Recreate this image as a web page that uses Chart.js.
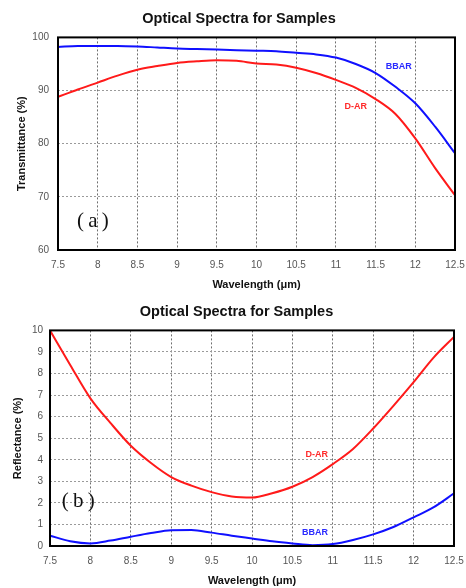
<!DOCTYPE html>
<html>
<head>
<meta charset="utf-8">
<script src="https://cdn.jsdelivr.net/npm/chart.js@4.4.1/dist/chart.umd.min.js"></script>
<style>
  html, body { margin: 0; padding: 0; background: #fff; }
  #wrap { position: relative; width: 466px; height: 588px; }
  .box { position: absolute; left: 0; width: 466px; }
</style>
</head>
<body>
<div id="wrap">
  <div class="box" style="top:0;height:292px"><canvas id="c1"></canvas></div>
  <div class="box" style="top:293px;height:295px"><canvas id="c2"></canvas></div>
</div>
<script>
// ---- data ----
const wavelengths = [7.5, 7.75, 8.0, 8.25, 8.5, 8.75, 9.0, 9.25, 9.5, 9.75, 10.0,
                     10.25, 10.5, 10.75, 11.0, 11.25, 11.5, 11.75, 12.0, 12.25, 12.5];
const transBBAR = [98.2, 98.4, 98.4, 98.4, 98.3, 98.1, 97.9, 97.8, 97.7, 97.6, 97.5,
                   97.4, 97.1, 96.8, 96.2, 95.0, 93.3, 90.7, 87.6, 83.2, 78.2];
const transDAR  = [88.8, 90.2, 91.5, 92.8, 93.9, 94.6, 95.2, 95.5, 95.7, 95.6, 95.1,
                   94.9, 94.3, 93.3, 92.0, 90.5, 88.4, 85.6, 81.0, 75.4, 70.3];
const reflDAR   = [10.0, 8.4, 6.85, 5.7, 4.65, 3.85, 3.2, 2.8, 2.5, 2.3, 2.25,
                   2.45, 2.75, 3.2, 3.8, 4.5, 5.45, 6.5, 7.6, 8.75, 9.7];
const reflBBAR  = [0.48, 0.22, 0.12, 0.25, 0.43, 0.6, 0.73, 0.74, 0.62, 0.48, 0.35,
                   0.22, 0.12, 0.04, 0.09, 0.28, 0.54, 0.88, 1.33, 1.8, 2.44];
const chartTitle = 'Optical Spectra for Samples';
const xTitle = 'Wavelength (\u03bcm)';

const toPts = (ys) => wavelengths.map((x, i) => ({x: x, y: ys[i]}));

const framePlugin = {
  id: 'frame',
  afterDatasetsDraw(chart) {
    const a = chart.chartArea, ctx = chart.ctx;
    ctx.save();
    ctx.strokeStyle = '#000';
    ctx.lineWidth = 2;
    ctx.strokeRect(a.left, a.top, a.right - a.left, a.bottom - a.top);
    ctx.restore();
  }
};
const notesPlugin = {
  id: 'notes',
  afterDatasetsDraw(chart, args, opts) {
    const ctx = chart.ctx, xs = chart.scales.x, ys = chart.scales.y;
    ctx.save();
    ctx.textAlign = 'center';
    ctx.textBaseline = 'middle';
    (opts.items || []).forEach(it => {
      ctx.font = it.font;
      ctx.fillStyle = it.color;
      ctx.fillText(it.text, xs.getPixelForValue(it.x), ys.getPixelForValue(it.y));
    });
    ctx.restore();
  }
};

function makeChart(id, cfg) {
  return new Chart(document.getElementById(id), {
    type: 'line',
    data: {
      datasets: [
        {label: 'BBAR', data: toPts(cfg.bbar), borderColor: '#1010ff', borderWidth: 2,
         pointRadius: 0, cubicInterpolationMode: 'monotone', fill: false},
        {label: 'D-AR', data: toPts(cfg.dar), borderColor: '#ff1a1a', borderWidth: 2,
         pointRadius: 0, cubicInterpolationMode: 'monotone', fill: false}
      ]
    },
    options: {
      responsive: true,
      maintainAspectRatio: false,
      animation: false,
      layout: {padding: {left: cfg.padLeft, right: cfg.padRight, top: 0, bottom: 0}},
      plugins: {
        legend: {display: false},
        tooltip: {enabled: false},
        title: {display: true, text: chartTitle, color: '#111',
                font: {family: 'Liberation Sans, Arial', size: 14.5, weight: 'bold'},
                padding: {top: 10, bottom: 10}},
        notes: {items: cfg.notes}
      },
      scales: {
        x: {
          type: 'linear', min: 7.5, max: 12.5,
          ticks: {stepSize: 0.5, color: '#555', padding: 9,
                  font: {family: 'Liberation Sans, Arial', size: 10},
                  callback: (v) => String(Math.round(v * 10) / 10)},
          grid: {color: '#6e6e6e', drawTicks: false, lineWidth: 1},
          border: {display: false, dash: [2, 2]},
          title: {display: true, text: xTitle, color: '#111',
                  font: {family: 'Liberation Sans, Arial', size: 11, weight: 'bold'},
                  padding: {top: 0, bottom: 0}},
          afterFit(s) { s.height = 42; s.paddingLeft = 0; s.paddingRight = 0; }
        },
        y: {
          min: cfg.ymin, max: cfg.ymax,
          ticks: {stepSize: cfg.ystep, color: '#555', padding: cfg.tickPad,
                  font: {family: 'Liberation Sans, Arial', size: 10}},
          grid: {color: '#9a9a9a', drawTicks: false, lineWidth: 1},
          border: {display: false, dash: [2, 2]},
          title: {display: true, text: cfg.yTitle, color: '#111',
                  font: {family: 'Liberation Sans, Arial', size: 11, weight: 'bold'},
                  padding: {top: cfg.yTitlePad, bottom: 0}},
          afterFit(s) { s.width = cfg.yWidth; s.paddingTop = 0; s.paddingBottom = 0; }
        }
      }
    },
    plugins: [framePlugin, notesPlugin]
  });
}

makeChart('c1', {
  bbar: transBBAR, dar: transDAR, ymin: 60, ymax: 100, ystep: 10,
  yTitle: 'Transmittance (%)', padLeft: 23, yWidth: 35, padRight: 11, tickPad: 9, yTitlePad: -7.6,
  notes: [
    {text: 'BBAR', x: 11.79, y: 94.55, color: '#2a2aff', font: 'bold 9px Liberation Sans, Arial'},
    {text: 'D-AR', x: 11.25, y: 87.0, color: '#ff2a2a', font: 'bold 9px Liberation Sans, Arial'},
    {text: '(\u2009a\u2009)', x: 7.94, y: 65.3, color: '#111', font: '21px Liberation Serif, serif'}
  ]
});
makeChart('c2', {
  bbar: reflBBAR, dar: reflDAR, ymin: 0, ymax: 10, ystep: 1,
  yTitle: 'Reflectance (%)', padLeft: 19, yWidth: 31, padRight: 12, tickPad: 7, yTitlePad: -7.6,
  notes: [
    {text: 'D-AR', x: 10.80, y: 4.25, color: '#ff2a2a', font: 'bold 9px Liberation Sans, Arial'},
    {text: 'BBAR', x: 10.78, y: 0.62, color: '#2a2aff', font: 'bold 9px Liberation Sans, Arial'},
    {text: '(\u2009b\u2009)', x: 7.85, y: 2.05, color: '#111', font: '21px Liberation Serif, serif'}
  ]
});
</script>
</body>
</html>
